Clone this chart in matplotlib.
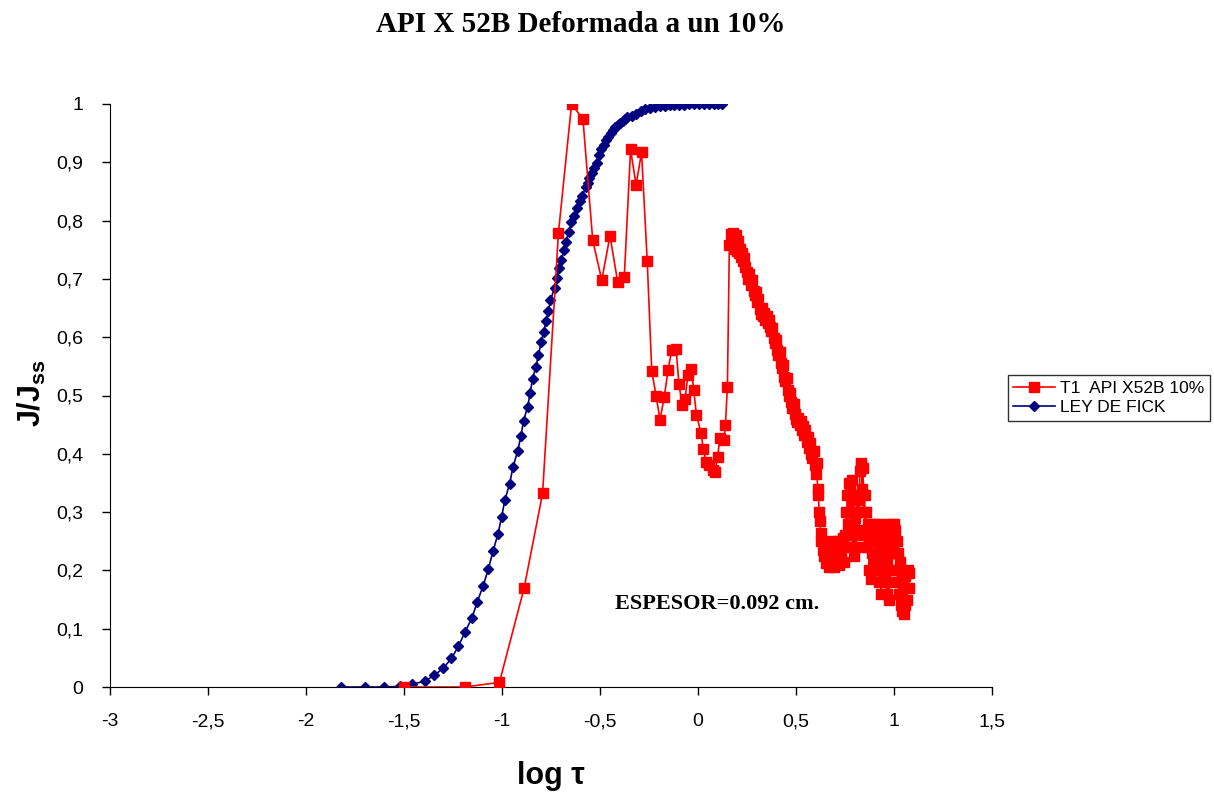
import matplotlib
matplotlib.use("Agg")
import matplotlib.pyplot as plt
from matplotlib.ticker import FixedLocator, FuncFormatter

# ---------------- data ----------------
title = "API X 52B Deformada a un 10%"
label_exp = "T1  API X52B 10%"
label_fick = "LEY DE FICK"
annot = "ESPESOR=0.092 cm."

exp_x = [-1.500, -1.189, -1.013, -0.887, -0.793, -0.712, -0.645, -0.587, -0.537, -0.491,
         -0.449, -0.410, -0.376, -0.344, -0.316, -0.288, -0.259, -0.236, -0.214, -0.194,
         -0.172, -0.153, -0.134, -0.112, -0.097, -0.080, -0.066, -0.051, -0.034, -0.022,
         -0.008, 0.015, 0.027, 0.041, 0.057, 0.074, 0.086, 0.100, 0.112, 0.133,
         0.140, 0.150, 0.160, 0.170, 0.175, 0.180, 0.185, 0.190, 0.195, 0.200,
         0.205, 0.210, 0.215, 0.220, 0.225, 0.230, 0.235, 0.240,
         0.248, 0.256, 0.262, 0.270, 0.278, 0.284, 0.290, 0.296, 0.302, 0.308,
         0.314, 0.320, 0.326, 0.332, 0.338, 0.344, 0.350, 0.356, 0.362, 0.368,
         0.374, 0.380, 0.386, 0.392, 0.398, 0.404, 0.410, 0.416, 0.422, 0.428,
         0.434, 0.440, 0.446, 0.452, 0.458, 0.464, 0.470, 0.476, 0.482, 0.488,
         0.494, 0.500, 0.506, 0.512, 0.518, 0.524, 0.530, 0.536, 0.542, 0.548,
         0.554, 0.560, 0.566, 0.572, 0.578, 0.584, 0.590, 0.596, 0.602, 0.606,
         0.610, 0.614, 0.618, 0.622, 0.626, 0.630, 0.636, 0.642, 0.648, 0.654,
         0.660, 0.666, 0.672, 0.678, 0.684, 0.690, 0.696, 0.702, 0.708, 0.714,
         0.720, 0.726, 0.732, 0.738, 0.744, 0.750, 0.754, 0.758, 0.762, 0.766,
         0.770, 0.774, 0.778, 0.782, 0.786, 0.790, 0.794, 0.798, 0.802, 0.806,
         0.810, 0.814, 0.818, 0.822, 0.826, 0.830, 0.834, 0.838, 0.842, 0.846,
         0.850, 0.854, 0.858, 0.862, 0.866, 0.870, 0.874, 0.878, 0.882, 0.886,
         0.890, 0.894, 0.898, 0.902, 0.906, 0.910, 0.914, 0.918, 0.922, 0.926,
         0.930, 0.934, 0.938, 0.942, 0.946, 0.950, 0.954, 0.958, 0.962, 0.966,
         0.970, 0.974, 0.978, 0.982, 0.986, 0.990, 0.994, 0.998, 1.002, 1.006,
         1.010, 1.014, 1.018, 1.022, 1.026, 1.030, 1.034, 1.038, 1.042, 1.046,
         1.050, 1.054, 1.058, 1.062, 1.066, 1.070, 1.074, 1.076]
exp_y = [0.000, 0.000, 0.008, 0.170, 0.332, 0.779, 1.000, 0.974, 0.766, 0.698,
         0.774, 0.695, 0.704, 0.922, 0.861, 0.917, 0.730, 0.542, 0.500, 0.458,
         0.498, 0.543, 0.578, 0.580, 0.519, 0.483, 0.494, 0.536, 0.545, 0.510,
         0.467, 0.436, 0.409, 0.386, 0.381, 0.372, 0.368, 0.395, 0.427, 0.424,
         0.450, 0.515, 0.758, 0.777, 0.760, 0.778, 0.770, 0.752, 0.775, 0.748,
         0.765, 0.745, 0.752, 0.738, 0.745, 0.730, 0.735, 0.720,
         0.712, 0.700, 0.708, 0.690, 0.698, 0.680, 0.672, 0.678, 0.660, 0.665,
         0.648, 0.640, 0.650, 0.636, 0.642, 0.630, 0.636, 0.624, 0.630, 0.618,
         0.610, 0.615, 0.598, 0.590, 0.596, 0.578, 0.570, 0.575, 0.556, 0.548,
         0.552, 0.532, 0.525, 0.530, 0.510, 0.500, 0.505, 0.488, 0.478, 0.485,
         0.468, 0.460, 0.455, 0.462, 0.450, 0.456, 0.440, 0.448, 0.432, 0.440,
         0.420, 0.428, 0.410, 0.418, 0.400, 0.392, 0.405, 0.380, 0.365, 0.385,
         0.340, 0.330, 0.300, 0.285, 0.265, 0.250, 0.235, 0.225, 0.240, 0.212,
         0.228, 0.205, 0.240, 0.218, 0.250, 0.230, 0.205, 0.245, 0.215, 0.250,
         0.210, 0.240, 0.225, 0.255, 0.215, 0.260, 0.300, 0.240, 0.330, 0.280,
         0.350, 0.300, 0.345, 0.260, 0.355, 0.240, 0.330, 0.225, 0.290, 0.240,
         0.330, 0.260, 0.320, 0.270, 0.370, 0.385, 0.380, 0.340, 0.375, 0.300,
         0.330, 0.260, 0.300, 0.240, 0.280, 0.250, 0.200, 0.265, 0.185, 0.270,
         0.230, 0.280, 0.250, 0.280, 0.220, 0.270, 0.200, 0.255, 0.180, 0.230,
         0.200, 0.160, 0.270, 0.220, 0.280, 0.240, 0.185, 0.250, 0.160, 0.220,
         0.180, 0.150, 0.200, 0.230, 0.260, 0.280, 0.240, 0.280, 0.230, 0.270,
         0.200, 0.250, 0.180, 0.230, 0.160, 0.215, 0.140, 0.200, 0.130, 0.170,
         0.125, 0.190, 0.140, 0.195, 0.150, 0.200, 0.170, 0.195]

fick_x = [-1.822, -1.698, -1.602, -1.520, -1.458, -1.393, -1.346, -1.300, -1.258, -1.222,
          -1.188, -1.154, -1.127, -1.097, -1.069, -1.046, -1.020, -1.002, -0.985, -0.961,
          -0.944, -0.920, -0.903, -0.890, -0.869, -0.856, -0.844, -0.827, -0.814, -0.800,
          -0.788, -0.775, -0.763, -0.753, -0.732, -0.720, -0.710, -0.697, -0.686, -0.675,
          -0.659, -0.646, -0.632, -0.619, -0.602, -0.590, -0.573, -0.563, -0.554, -0.542,
          -0.529, -0.517, -0.505, -0.493, -0.481, -0.469, -0.457, -0.445, -0.433, -0.421,
          -0.409, -0.397, -0.385, -0.373, -0.361, -0.335, -0.316, -0.290, -0.270, -0.245,
          -0.220, -0.195, -0.170, -0.145, -0.120, -0.095, -0.070, -0.045, -0.020, 0.005,
          0.030, 0.055, 0.080, 0.100, 0.120]
fick_y = [0.000, 0.000, 0.000, 0.001, 0.005, 0.010, 0.020, 0.032, 0.049, 0.070,
          0.095, 0.118, 0.145, 0.173, 0.203, 0.233, 0.263, 0.292, 0.321, 0.349,
          0.377, 0.405, 0.431, 0.457, 0.481, 0.505, 0.529, 0.549, 0.570, 0.591,
          0.609, 0.627, 0.645, 0.663, 0.685, 0.701, 0.718, 0.732, 0.749, 0.763,
          0.781, 0.797, 0.808, 0.822, 0.833, 0.843, 0.857, 0.865, 0.873, 0.881,
          0.890, 0.898, 0.912, 0.922, 0.930, 0.938, 0.944, 0.950, 0.955, 0.960,
          0.964, 0.968, 0.971, 0.974, 0.977, 0.979, 0.983, 0.988, 0.991, 0.993,
          0.995, 0.996, 0.997, 0.998, 0.998, 0.999, 0.999, 1.000, 1.000, 1.000,
          1.000, 1.000, 1.000, 1.000, 1.000]

x_ticks = [-3, -2.5, -2, -1.5, -1, -0.5, 0, 0.5, 1, 1.5]
y_ticks = [0, 0.1, 0.2, 0.3, 0.4, 0.5, 0.6, 0.7, 0.8, 0.9, 1.0]

# ---------------- figure ----------------
plt.rcParams["mathtext.fontset"] = "custom"
plt.rcParams["mathtext.bf"] = "Liberation Sans:bold"
plt.rcParams["mathtext.rm"] = "Liberation Sans"

W, H = 1214, 796
fig = plt.figure(figsize=(W / 100, H / 100), dpi=100)
ax = fig.add_axes([110 / W, 1 - 687 / H, (992 - 110) / W, (687 - 104) / H])

ax.plot(fick_x, fick_y, color="#000080", marker="D", markersize=5.4, linewidth=1.2,
        label=label_fick, zorder=2)
ax.plot(exp_x, exp_y, color="#FF0000", marker="s", markersize=7.3, linewidth=1.2,
        label=label_exp, zorder=3)

ax.set_xlim(-3, 1.5)
ax.set_ylim(0, 1)
ax.xaxis.set_major_locator(FixedLocator(x_ticks))
ax.yaxis.set_major_locator(FixedLocator(y_ticks))


def comma(v, pos):
    return ("%g" % round(v, 3)).replace(".", ",")


ax.xaxis.set_major_formatter(FuncFormatter(comma))
ax.yaxis.set_major_formatter(FuncFormatter(comma))
ax.tick_params(axis="both", direction="out", length=6, width=1, labelsize=14,
               colors="black")
ax.tick_params(axis="x", pad=13)
ax.tick_params(axis="y", pad=13)
for lab in ax.get_xticklabels() + ax.get_yticklabels():
    lab.set_fontfamily("Liberation Sans")
ax.spines["top"].set_visible(False)
ax.spines["right"].set_visible(False)
ax.spines["left"].set_color("black")
ax.spines["bottom"].set_color("black")
ax.patch.set_alpha(0)

fig.text(581 / W, 1 - 25 / H, title, ha="center", va="center",
         fontfamily="Liberation Serif", fontweight="bold", fontsize=21)
fig.text(551 / W, 1 - 776 / H, "log \u03c4", ha="center", va="center",
         fontfamily="Liberation Sans", fontweight="bold", fontsize=22)
fig.text(32 / W, 1 - 393 / H, r"$\mathbf{J/J_{ss}}$", ha="center", va="center",
         rotation=90, fontsize=22)
fig.text(717 / W, 1 - 604 / H, annot, ha="center", va="center",
         fontfamily="Liberation Serif", fontweight="bold", fontsize=16)

h, l = ax.get_legend_handles_labels()
leg = fig.legend(h[::-1], l[::-1], loc="center left",
                 bbox_to_anchor=(1008 / W, 1 - 398 / H),
                 prop={"family": "Liberation Sans", "size": 12.5},
                 frameon=True, fancybox=False, edgecolor="black",
                 handlelength=2.4, handletextpad=0.3, borderpad=0.3,
                 labelspacing=0.25, borderaxespad=0)
leg.get_frame().set_linewidth(1.0)

fig.savefig("out.png", dpi=100)
